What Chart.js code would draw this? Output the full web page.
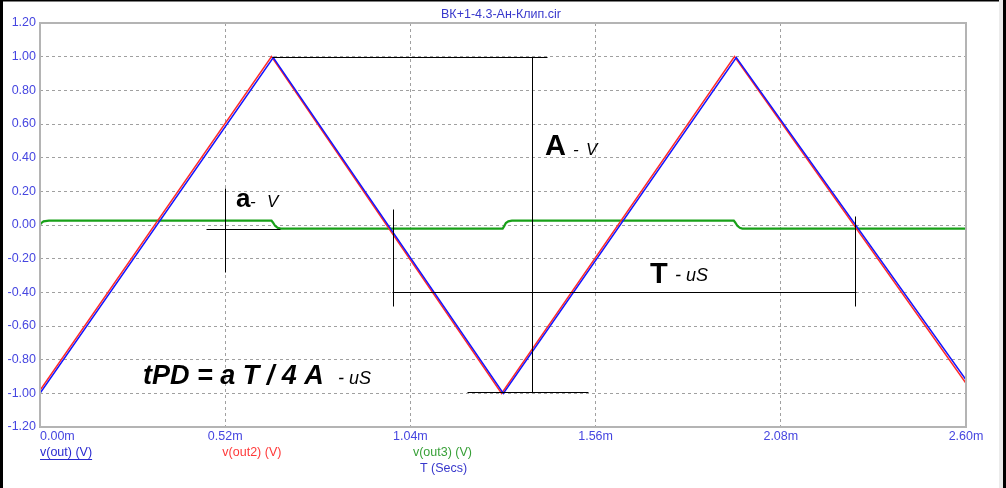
<!DOCTYPE html>
<html>
<head>
<meta charset="utf-8">
<script src="https://cdn.jsdelivr.net/npm/chart.js@4.4.1/dist/chart.umd.min.js"></script>
<style>
html,body{margin:0;padding:0;background:#fff;}
canvas{display:block;}
</style>
</head>
<body>
<canvas id="c" width="1006" height="488"></canvas>
<script>
// ---- data (time in ms, values in V) ----
const xTickValues = [0, 0.52, 1.04, 1.56, 2.08, 2.60];
const xTickLabels = ['0.00m', '0.52m', '1.04m', '1.56m', '2.08m', '2.60m'];
const yTickValues = [-1.2, -1.0, -0.8, -0.6, -0.4, -0.2, 0, 0.2, 0.4, 0.6, 0.8, 1.0, 1.2];
const yTickLabels = ['-1.20', '-1.00', '-0.80', '-0.60', '-0.40', '-0.20', '0.00', '0.20', '0.40', '0.60', '0.80', '1.00', '1.20'];

const tOut  = [0, 0.655, 1.301, 1.955, 2.600];
const vOut  = [-1.0, 0.995, -1.0, 0.995, -0.92];
const tOut2 = [0, 0.650, 1.296, 1.950, 2.600];
const vOut2 = [-0.982, 1.0, -1.0, 1.0, -0.94];
const tOut3 = [0, 0.004, 0.010, 0.025, 0.650, 0.654, 0.660, 0.668, 0.676, 1.299, 1.303, 1.308, 1.315, 1.325, 1.948, 1.952, 1.958, 1.965, 1.972, 2.600];
const vOut3 = [0.002, 0.012, 0.022, 0.026, 0.026, 0.015, -0.005, -0.017, -0.021, -0.021, -0.008, 0.012, 0.022, 0.026, 0.026, 0.015, -0.005, -0.017, -0.021, -0.021];

const seriesNames = ['v(out) (V)', 'v(out2) (V)', 'v(out3) (V)'];
const titleText = 'ВК+1-4.3-Ан-Клип.cir';
const xAxisName = 'T (Secs)';

// ---- annotations (data coordinates) ----
const annoLines = [
  [0.6514, 1.0, 1.423, 1.0],
  [1.381, 1.0, 1.381, -0.994],
  [1.1986, -0.994, 1.5387, -0.994],
  [0.5195, 0.22, 0.5195, -0.28],
  [0.466, -0.021, 0.674, -0.021],
  [0.990, 0.098, 0.990, -0.484],
  [0.988, -0.40, 2.291, -0.40],
  [2.288, 0.056, 2.288, -0.484]
];
const annoTexts = [
  {t: 0.5503, v: 0.104, s: 'a', f: 'bold 26px'},
  {t: 0.5895, v: 0.104, s: '-', f: 'italic 17px'},
  {t: 0.6374, v: 0.104, s: 'V', f: 'italic 17px'},
  {t: 1.418, v: 0.418, s: 'A', f: 'bold 29px'},
  {t: 1.4965, v: 0.418, s: '-', f: 'italic 17px'},
  {t: 1.533, v: 0.418, s: 'V', f: 'italic 17px'},
  {t: 1.7127, v: -0.347, s: 'T', f: 'bold 29px'},
  {t: 1.783, v: -0.335, s: '-', f: 'italic 18px'},
  {t: 1.8138, v: -0.335, s: 'uS', f: 'italic 18px'},
  {t: 0.2892, v: -0.9466, s: 'tPD = a T / 4 A', f: 'italic bold 27px'},
  {t: 0.8367, v: -0.9466, s: '- uS', f: 'italic 18px'}
];

const FONT = "'Liberation Sans', Arial, sans-serif";
const TICK_COLOR = '#4646e0';

function pts(ts, vs){ return ts.map((t,i)=>({x:t, y:vs[i]})); }

const decor = {
  id: 'decor',
  beforeDraw(chart){
    const ctx = chart.ctx;
    ctx.save();
    ctx.fillStyle = '#fff';
    ctx.fillRect(0,0,chart.width,chart.height);
    ctx.restore();
  },
  afterDatasetsDraw(chart){
    const ctx = chart.ctx, xs = chart.scales.x, ys = chart.scales.y, a = chart.chartArea;
    ctx.save();
    // plot frame
    ctx.strokeStyle = '#b4b4b4';
    ctx.lineWidth = 2;
    ctx.strokeRect(a.left, a.top, a.right - a.left, a.bottom - a.top);
    // annotation lines
    ctx.strokeStyle = '#000';
    ctx.lineWidth = 1;
    annoLines.forEach(l=>{
      const x1 = Math.round(xs.getPixelForValue(l[0])) + 0.5;
      const y1 = Math.round(ys.getPixelForValue(l[1])) + 0.5;
      const x2 = Math.round(xs.getPixelForValue(l[2])) + 0.5;
      const y2 = Math.round(ys.getPixelForValue(l[3])) + 0.5;
      ctx.beginPath(); ctx.moveTo(x1,y1); ctx.lineTo(x2,y2); ctx.stroke();
    });
    // annotation texts
    ctx.fillStyle = '#000';
    ctx.textAlign = 'left';
    ctx.textBaseline = 'alphabetic';
    annoTexts.forEach(o=>{
      ctx.font = o.f + ' ' + FONT;
      ctx.fillText(o.s, xs.getPixelForValue(o.t), ys.getPixelForValue(o.v));
    });
    // x tick labels
    ctx.font = '12.5px ' + FONT;
    ctx.fillStyle = TICK_COLOR;
    ctx.textBaseline = 'middle';
    xTickValues.forEach((v,i)=>{
      const px = xs.getPixelForValue(v);
      ctx.textAlign = i === 0 ? 'left' : 'center';
      ctx.fillText(xTickLabels[i], px, a.bottom + 10);
    });
    // title
    ctx.fillStyle = '#3838cc';
    ctx.textAlign = 'center';
    ctx.fillText(titleText, (a.left + a.right)/2 - 2, 15);
    // legend
    const ly = a.bottom + 26;
    const colors = ['#2a2ad0', '#ff3838', '#38a038'];
    const lx = [xs.getPixelForValue(0), xs.getPixelForValue(0.512), xs.getPixelForValue(1.047)];
    ctx.textAlign = 'left';
    seriesNames.forEach((n,i)=>{
      ctx.fillStyle = colors[i];
      ctx.fillText(n, lx[i], ly);
      if(i === 0){
        const w = ctx.measureText(n).width;
        ctx.fillRect(lx[i], ly + 6, w, 1);
      }
    });
    ctx.fillStyle = '#3838cc';
    ctx.fillText(xAxisName, xs.getPixelForValue(1.067), ly + 16);
    // window frame
    ctx.fillStyle = '#000';
    ctx.fillRect(0, 0, 3, chart.height);
    ctx.fillRect(0, 0, chart.width, 1.5);
    ctx.fillStyle = '#ececec';
    ctx.fillRect(999, 0, 4, chart.height);
    ctx.fillStyle = '#000';
    ctx.fillRect(1003, 0, 3, chart.height);
    ctx.restore();
  }
};

Chart.defaults.font.family = FONT;

new Chart(document.getElementById('c'), {
  type: 'line',
  data: {
    datasets: [
      {label: seriesNames[0], data: pts(tOut, vOut), borderColor: '#1414ff', borderWidth: 1.5, pointRadius: 0, tension: 0},
      {label: seriesNames[1], data: pts(tOut2, vOut2), borderColor: '#ff2a2a', borderWidth: 1.5, pointRadius: 0, tension: 0},
      {label: seriesNames[2], data: pts(tOut3, vOut3), borderColor: '#18a018', borderWidth: 2.2, pointRadius: 0, tension: 0}
    ]
  },
  options: {
    responsive: false,
    animation: false,
    devicePixelRatio: 1,
    layout: {padding: {top: 23, right: 40, bottom: 0, left: 0}},
    plugins: {legend: {display: false}, title: {display: false}, tooltip: {enabled: false}},
    scales: {
      x: {
        type: 'linear', min: 0, max: 2.6,
        afterBuildTicks: s => { s.ticks = xTickValues.map(v=>({value:v})); },
        afterFit: s => { s.height = 61; },
        ticks: {display: false},
        grid: {color: '#a0a0a0', lineWidth: 1, drawTicks: false},
        border: {display: false, dash: [3,3]}
      },
      y: {
        type: 'linear', min: -1.2, max: 1.2,
        afterBuildTicks: s => { s.ticks = yTickValues.map(v=>({value:v})); },
        afterFit: s => { s.width = 40; },
        ticks: {
          color: TICK_COLOR, padding: 4, font: {size: 12.5},
          callback: (v, i) => yTickLabels[i]
        },
        grid: {color: '#a0a0a0', lineWidth: 1, drawTicks: false},
        border: {display: false, dash: [3,3]}
      }
    }
  },
  plugins: [decor]
});
</script>
</body>
</html>
